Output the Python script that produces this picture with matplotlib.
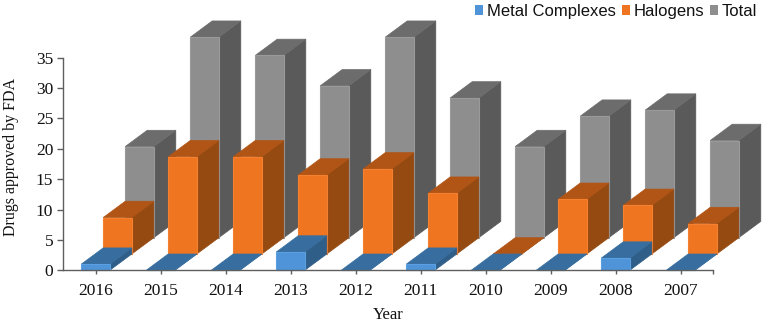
import matplotlib
matplotlib.use("Agg")
import matplotlib.pyplot as plt
from matplotlib.patches import Polygon, Patch

years = ["2016", "2015", "2014", "2013", "2012", "2011", "2010", "2009", "2008", "2007"]
metal = [1, 0, 0, 3, 0, 1, 0, 0, 2, 0]
halogens = [6, 16, 16, 13, 14, 10, 0, 9, 8, 5]
total = [15, 33, 30, 25, 33, 23, 15, 20, 21, 16]

W, H = 765, 324
X0, X1, Y0, Y35 = 63.0, 713.0, 270.3, 57.7
BAR_W = 0.44
DX = 22.0 / 65.0
DY = 16.3 / ((Y0 - Y35) / 35.0)
SERIF = "Liberation Serif"
SANS = "Liberation Sans"

fig = plt.figure(figsize=(W / 100, H / 100), dpi=100, facecolor="white")
ax = fig.add_axes([X0 / W, 1 - Y0 / H, (X1 - X0) / W, (Y0 - Y35) / H])
ax.set_xlim(0, 10)
ax.set_ylim(0, 35)


def draw_series(values, step, front, top, side, edge, z):
    for i, v in enumerate(values):
        xc = i + 0.5 + step * DX
        base = step * DY
        left, right = xc - BAR_W / 2, xc + BAR_W / 2
        h = base + v
        ax.add_patch(Polygon([(right, base), (right + DX, base + DY), (right + DX, h + DY), (right, h)],
                             closed=True, fc=side, ec=side, lw=0.5, clip_on=False, zorder=z))
        ax.add_patch(Polygon([(left, h), (left + DX, h + DY), (right + DX, h + DY), (right, h)],
                             closed=True, fc=top, ec=top, lw=0.5, clip_on=False, zorder=z))
    ax.bar([i + 0.5 + step * DX for i in range(len(values))], values, width=BAR_W,
           bottom=step * DY, color=front, edgecolor=edge, linewidth=0.8, clip_on=False, zorder=z + 0.1)


draw_series(total, 2, "#8E8E8E", "#6C6C6C", "#5A5A5A", "#9A9A9A", 2)
draw_series(halogens, 1, "#F07521", "#B15516", "#954A12", "#F58030", 3)
draw_series(metal, 0, "#4F94D8", "#376E9F", "#2F5E88", "#5BA0E0", 4)

for s in ("top", "right"):
    ax.spines[s].set_visible(False)
for s in ("left", "bottom"):
    ax.spines[s].set_color("#5E5E5E")
    ax.spines[s].set_linewidth(1.0)
    ax.spines[s].set_zorder(6)

ax.set_yticks(range(0, 36, 5))
ax.set_xticks([i + 0.5 for i in range(len(years))])
ax.set_xticklabels(years)
ax.set_xticks([10], minor=True)
ax.tick_params(axis="y", which="both", color="#5E5E5E", width=1.0, length=4, direction="out", pad=3)
ax.tick_params(axis="x", which="both", color="#5E5E5E", width=1.0, length=3, direction="out")
ax.tick_params(axis="x", which="major", pad=6.5)
for lab in ax.get_xticklabels() + ax.get_yticklabels():
    lab.set_fontfamily(SERIF)
    lab.set_fontsize(12.5)
    lab.set_color("#111111")

fig.text(388 / W, 1 - 315 / H, "Year", family=SERIF, fontsize=12, ha="center", va="center", color="#111111")
fig.text(11 / W, 1 - 157 / H, "Drugs approved by FDA", family=SERIF, fontsize=11.5, rotation=90,
         ha="center", va="center", color="#111111")

handles = [Patch(fc="#4F94D8"), Patch(fc="#F07521"), Patch(fc="#8E8E8E")]
fig.legend(handles, ["Metal Complexes", "Halogens", "Total"], ncol=3, frameon=False,
           loc="center right", bbox_to_anchor=(757 / W, 1 - 11.5 / H), prop={"family": SANS, "size": 12},
           handlelength=0.5, handleheight=0.5, handletextpad=0.2, columnspacing=0.36,
           borderpad=0, borderaxespad=0, labelcolor="#111111")

fig.savefig("out.png", dpi=100)
